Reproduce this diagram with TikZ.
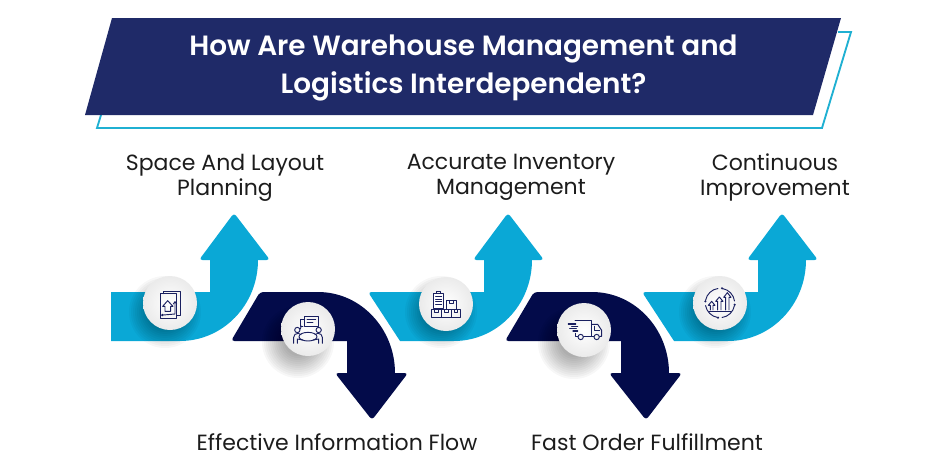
\documentclass[tikz,border=0pt]{standalone}
\usepackage{fontspec}
\setmainfont{Poppins}
\newfontfamily\titlefont{Poppins SemiBold}
\definecolor{bluearrow}{HTML}{0AA8D6}
\definecolor{darkarrow}{HTML}{030B4A}
\definecolor{bannerc}{HTML}{1F2A68}
\definecolor{tealc}{HTML}{1FB0D2}
\definecolor{iconc}{HTML}{1A2060}
\definecolor{labelc}{HTML}{1C1C1C}
\tikzset{
  upblue/.style={fill=bluearrow,draw=none},
  downdark/.style={fill=darkarrow,draw=none},
  disc/.style={circle,minimum size=40.5pt,inner sep=0pt,draw=none,inner color=white,outer color=black!8},
  lab/.style={font=\fontsize{16.5}{19}\selectfont,text=labelc,align=center,inner sep=0pt},
  ttl/.style={font=\titlefont\fontsize{20.9}{28.5}\selectfont,text=white,align=center,inner sep=0pt},
  ic/.style={draw=iconc,line width=.7pt,fill=none,line join=round,line cap=round},
  rc/.style={rounded corners=2.5pt},
}
\newcommand{\softshadow}[2]{%
  \foreach \rr in {36,34,...,14}{\fill[black,opacity=.03] (#1,#2) circle[radius=\rr];}}
\begin{document}
\begin{tikzpicture}[x=.75pt,y=-.75pt]
\useasboundingbox (0,0) rectangle (936,468);
% banner
\coordinate (ol1) at (101,115);
\coordinate (ol2) at (97,128);
\coordinate (ol3) at (822,128);
\coordinate (ol4) at (851,32);
\coordinate (ol5) at (838,32);
\draw[tealc,line width=1.4pt] (ol1) -- (ol2) -- (ol3) -- (ol4) -- (ol5);
\fill[bannerc] (112,18) -- (841,18) -- (813,115) -- (85,115) -- cycle;
\node[ttl] (title) at (463.5,67.5) {How Are Warehouse Management and\\Logistics Interdependent?};
% arrows
\path[upblue] (111,292) -- (210,292) -- (210,260) [rc] -- (199,260) -- (234,213) -- (270,260) [sharp corners] -- (258,260)
  .. controls (258,305) and (223,341) .. (180,341) -- (111,341) -- cycle;
\path[downdark] (260,292) -- (318,292) .. controls (361,292) and (395,329) .. (395,373)
  [rc] -- (408,373) -- (372,420) -- (335,373) [sharp corners] -- (347,373) -- (347,341) [rc] -- (231,341) -- cycle;
\path[upblue] (378,292) [sharp corners] -- (484,292) -- (484,260) [rc] -- (473,260) -- (508,213) -- (544,260) [sharp corners] -- (532,260)
  .. controls (532,305) and (497,341) .. (454,341) -- (400,341) [rc] -- (368,292) -- cycle;
\path[downdark] (534,292) -- (592,292) .. controls (635,292) and (669,329) .. (669,373)
  [rc] -- (682,373) -- (646,420) -- (609,373) [sharp corners] -- (621,373) -- (621,341) [rc] -- (505,341) -- cycle;
\path[upblue] (652,292) [sharp corners] -- (758,292) -- (758,260) [rc] -- (747,260) -- (782,213) -- (818,260) [sharp corners] -- (806,260)
  .. controls (806,305) and (771,341) .. (728,341) -- (674,341) [rc] -- (642,292) -- cycle;
% shadows
\softshadow{165}{312}
\softshadow{298}{342}
\softshadow{441}{312}
\softshadow{574}{343}
\softshadow{715}{312}
% discs
\node[disc] (c1) at (170,303) {};
\node[disc] (c2) at (308,329) {};
\node[disc] (c3) at (446,304) {};
\node[disc] (c4) at (584,330) {};
\node[disc] (c5) at (720,303) {};
% icon 1
\begin{scope}[shift={(145,278)},scale=1/3,ic]
  \draw (55,47) -- (55,40) -- (105,40) -- (105,113) -- (95,113);
  \draw (45,47) rectangle (95,120);
  \draw (68,68) -- (53,85) -- (60,85) -- (60,100) -- (77,100) -- (77,85) -- (84,85) -- cycle;
  \draw (90,72) -- (90,108) -- (55,111);
  \draw (85,78) -- (90,71) -- (95,78);
  \fill[iconc,draw=none] (52,111) circle[radius=4];
\end{scope}
% icon 2
\begin{scope}[shift={(283,304)},scale=1/3,ic]
  \draw (65,38) rectangle (105,66);
  \draw (72,47) -- (98,47) (72,55) -- (90,55);
  \draw (65,45) -- (53,45) -- (53,66) -- (60,66);
  \draw (55,66) -- (52,75);
  \draw (75,98) ellipse[x radius=27,y radius=13];
  \draw (43,78) circle[radius=8];
  \draw (107,78) circle[radius=8];
  \draw (32,118) -- (32,100) .. controls (32,92) and (38,88) .. (46,88) -- (54,92);
  \draw (118,118) -- (118,100) .. controls (118,92) and (112,88) .. (104,88) -- (96,92);
  \draw (43,118) -- (43,105) -- (60,108);
  \draw (107,118) -- (107,105) -- (90,108);
\end{scope}
% icon 3
\begin{scope}[shift={(421,279)},scale=1/3,ic]
  \draw (32,92) rectangle (118,115);
  \draw (61,92) -- (61,115) (90,92) -- (90,115);
  \draw (41,92) -- (41,100) -- (52,100) -- (52,92);
  \draw (70,92) -- (70,100) -- (81,100) -- (81,92);
  \draw (99,92) -- (99,100) -- (110,100) -- (110,92);
  \draw (75,65) rectangle (105,92);
  \draw (84,65) -- (84,73) -- (96,73) -- (96,65);
  \draw[fill=white] (38,42) rectangle (68,88);
  \draw (47,42) -- (47,36) -- (59,36) -- (59,42);
  \draw (44,52) -- (62,52) (44,60) -- (62,60) (44,68) -- (62,68) (44,76) -- (62,76);
\end{scope}
% icon 4
\begin{scope}[shift={(559,305)},scale=1/3,ic]
  \draw (48,47) -- (98,47) -- (98,94) -- (74,94);
  \draw (48,85) -- (48,94) -- (56,94);
  \draw (98,58) -- (116,58) -- (128,76) -- (128,94) -- (122,94);
  \draw (98,94) -- (104,94);
  \draw (106,64) -- (106,76) -- (122,76);
  \draw (65,96) circle[radius=8];
  \draw (113,96) circle[radius=8];
  \draw[line width=.9pt] (28,57) -- (50,57) (38,64) -- (56,64) (32,71) -- (52,71) (42,78) -- (56,78);
\end{scope}
% icon 5
\begin{scope}[shift={(695,278)},scale=1/3,ic]
  \draw (75,75) ++(100:44) arc[start angle=100,end angle=170,radius=44];
  \draw (75,75) ++(-170:44) arc[start angle=190,end angle=262,radius=44];
  \draw (75,75) ++(-80:44) arc[start angle=280,end angle=352,radius=44];
  \draw (75,75) ++(10:44) arc[start angle=10,end angle=82,radius=44];
  \fill[iconc,draw=none] (31,70) circle[radius=3.5] (69,119) circle[radius=3.5] (119,80) circle[radius=3.5] (81,31) circle[radius=3.5];
  \draw (42,100) -- (108,100);
  \draw (46,96) -- (46,82) -- (40,82) -- (50,70) -- (60,82) -- (54,82) -- (54,96);
  \draw (68,96) -- (68,70) -- (62,70) -- (73,57) -- (84,70) -- (78,70) -- (78,96);
  \draw (92,96) -- (92,58) -- (86,58) -- (97,44) -- (108,58) -- (102,58) -- (102,96);
\end{scope}
% labels
\node[lab] (l1) at (225,177.5) {Space And Layout\\Planning};
\node[lab] (l2) at (337,442) {Effective Information Flow};
\node[lab] (l3) at (511,177.5) {Accurate Inventory\\Management};
\node[lab] (l4) at (647,442) {Fast Order Fulfillment};
\node[lab] (l5) at (775,177.5) {Continuous\\Improvement};
\end{tikzpicture}
\end{document}
